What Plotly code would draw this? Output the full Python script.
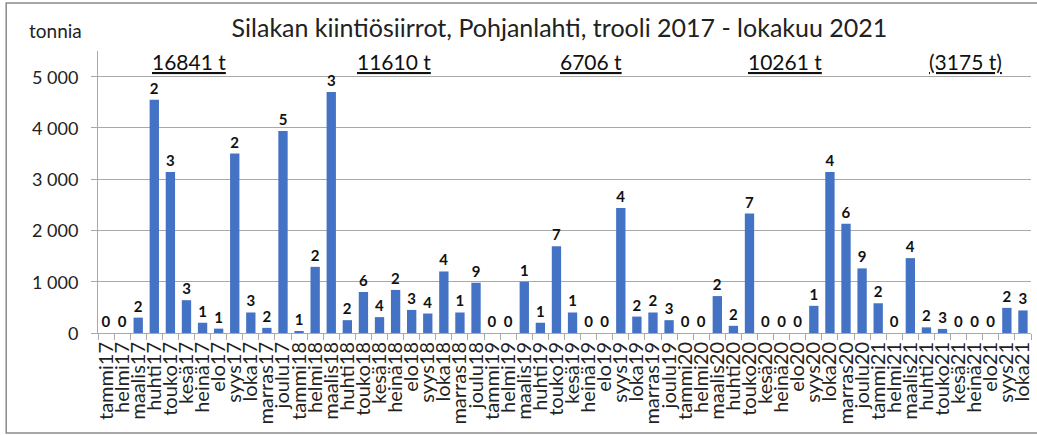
import plotly.graph_objects as go

months = ["tammi", "helmi", "maalis", "huhti", "touko", "kesä", "heinä", "elo",
          "syys", "loka", "marras", "joulu"]
categories = [m + yy for yy in ["17", "18", "19", "20"] for m in months] + \
             [m + "21" for m in months[:10]]

values_2017 = [0, 0, 300, 4550, 3140, 640, 200, 85, 3500, 400, 100, 3940]
values_2018 = [25, 1290, 4700, 250, 800, 310, 840, 450, 380, 1200, 400, 980]
values_2019 = [0, 0, 1000, 200, 1690, 400, 0, 0, 2440, 320, 400, 250]
values_2020 = [0, 0, 720, 140, 2330, 0, 0, 0, 530, 3140, 2130, 1260]
values_2021 = [580, 0, 1460, 110, 80, 0, 0, 0, 490, 440]
values = values_2017 + values_2018 + values_2019 + values_2020 + values_2021

counts_2017 = [0, 0, 2, 2, 3, 3, 1, 1, 2, 3, 2, 5]
counts_2018 = [1, 2, 3, 2, 6, 4, 2, 3, 4, 4, 1, 9]
counts_2019 = [0, 0, 1, 1, 7, 1, 0, 0, 4, 2, 2, 3]
counts_2020 = [0, 0, 2, 2, 7, 0, 0, 0, 1, 4, 6, 9]
counts_2021 = [2, 0, 4, 2, 3, 0, 0, 0, 2, 3]
counts = counts_2017 + counts_2018 + counts_2019 + counts_2020 + counts_2021

y_tick_values = [0, 1000, 2000, 3000, 4000, 5000]
y_tick_labels = ["0", "1 000", "2 000", "3 000", "4 000", "5 000"]

year_totals = ["16841 t", "11610 t", "6706 t", "10261 t", "(3175 t)"]
year_total_x = [0.098, 0.317, 0.528, 0.736, 0.930]

FONT = "Lato"
GRID = "#a9a9a9"

fig = go.Figure(go.Bar(
    x=categories, y=values,
    marker=dict(color="#4472C4", line=dict(width=0)),
    text=[str(c) for c in counts], textposition="outside",
    textfont=dict(family=FONT, size=15, color="#111111", weight="bold"),
    cliponaxis=False, width=0.58,
))

annotations = [dict(text="<u>" + t + "</u>", x=xp, y=0.961, xref="paper", yref="paper",
                    showarrow=False, xanchor="center", yanchor="middle",
                    font=dict(family=FONT, size=21, color="#111111"))
               for t, xp in zip(year_totals, year_total_x)]
annotations.append(dict(text="tonnia", x=-0.046, y=1.071, xref="paper", yref="paper",
                        showarrow=False, xanchor="center", yanchor="middle",
                        font=dict(family=FONT, size=19, color="#222222")))
# y-axis tick labels, right-aligned with the gap used in the reference
annotations += [dict(text=lab, x=-0.0193, y=v, xref="paper", yref="y",
                     showarrow=False, xanchor="right", yanchor="middle",
                     font=dict(family=FONT, size=18, color="#222222"))
                for v, lab in zip(y_tick_values, y_tick_labels)]

fig.update_layout(
    width=1037, height=435,
    margin=dict(l=98, r=4, t=51, b=102),
    paper_bgcolor="white", plot_bgcolor="white",
    title=dict(text="Silakan kiintiösiirrot, Pohjanlahti, trooli 2017 - lokakuu 2021",
               x=0.5395, xanchor="center", y=0.9356, yanchor="middle",
               font=dict(family=FONT, size=25, color="#222222")),
    showlegend=False,
    annotations=annotations,
    shapes=[dict(type="rect", xref="paper", yref="paper",
                 x0=-0.0984, x1=1.06, y0=-0.3546, y1=1.17,
                 line=dict(color="#8a8a8a", width=1.5))],
)
fig.update_xaxes(
    type="category", tickmode="array", tickvals=categories, ticktext=categories,
    tickangle=-90, tickson="boundaries", ticks="outside", ticklen=6,
    tickcolor=GRID, showline=True, linecolor=GRID, linewidth=1,
    tickfont=dict(family=FONT, size=20, color="#222222"), showgrid=False,
)
fig.update_yaxes(
    range=[0, 5500], tickmode="array", tickvals=y_tick_values,
    showticklabels=False,
    showgrid=True, gridcolor=GRID, gridwidth=1,
    showline=True, linecolor=GRID, linewidth=1,
    ticks="outside", ticklen=6, tickcolor=GRID,
    zeroline=False,
)

fig.write_html("out.html", config={"displayModeBar": False},
               post_script="document.body.style.margin='0';document.body.style.overflow='hidden';")
